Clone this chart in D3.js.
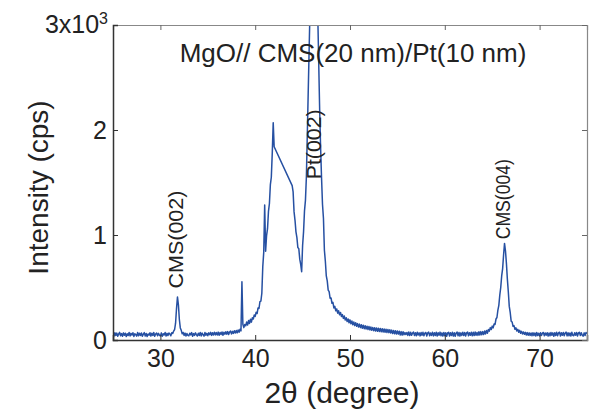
<!DOCTYPE html>
<html>
<head>
<meta charset="utf-8">
<script src="https://cdn.jsdelivr.net/npm/d3@7"></script>
<style>
  html, body { margin: 0; padding: 0; background: #fff; }
  svg { display: block; }
  text { font-family: "Liberation Sans", Arial, Helvetica, sans-serif; fill: #222; }
</style>
</head>
<body>
<svg id="chart" width="589" height="414"></svg>
<script>
// XRD θ-2θ scan: 25°–75°, step 0.1°. null = no reading at that step
// (the plotted line bridges those gaps with a straight segment).
const scanStart = 25;
const scanStep = 0.1;
const intensity = [
  62,38,70,44,66,35,58,73,40,61,          // 25
  36,68,45,64,33,59,42,71,39,63,          // 26
  47,69,34,60,52,37,72,41,65,43,          // 27
  67,35,56,70,38,62,34,58,46,69,          // 28
  37,64,43,71,36,57,66,40,63,45,          // 29
  39,68,36,60,48,72,38,63,42,67,          // 30
  58,40,70,62,85,100,160,300,410,335,     // 31
  195,115,92,60,72,44,66,38,62,45,        // 32
  40,65,48,70,36,61,44,68,52,38,          // 33
  64,42,71,39,66,50,37,72,45,63,          // 34
  41,68,50,73,44,69,47,74,49,70,          // 35
  48,75,45,71,52,77,46,73,55,78,          // 36
  56,80,52,76,85,58,82,63,88,66,          // 37
  90,68,96,74,102,86,555,150,118,148,     // 38
  135,172,142,185,158,198,170,212,200,238,// 39
  225,265,252,305,300,365,370,445,700,835,// 40
  1286,845,995,1060,1225,1300,1480,1550,1780,2070,   // 41
  1840,null,null,null,null,null,null,null,null,null, // 42
  null,null,null,null,null,null,null,null,null,1470, // 43
  1410,1220,1140,1030,975,880,870,770,720,650,       // 44
  900,1030,1230,1330,1555,null,null,null,null,null,  // 45
  null,null,4900,null,null,null,null,null,2190,1830, // 46
  1540,1290,1160,855,750,610,563,475,460,398,        // 47
  400,350,358,305,320,278,296,256,278,240,// 48
  262,224,242,206,228,190,212,176,200,164,// 49
  192,154,181,145,171,137,164,131,156,124,// 50
  151,118,146,112,141,108,135,104,131,99, // 51
  128,96,124,92,120,89,117,86,114,83,     // 52
  112,81,110,78,107,76,105,74,103,72,     // 53
  101,70,98,66,94,62,91,60,88,58,         // 54
  85,56,84,48,80,46,78,51,70,52,          // 55
  72,44,76,42,73,46,66,75,43,70,          // 56
  41,74,47,68,39,71,45,73,40,66,          // 57
  72,38,69,75,40,67,44,73,39,70,          // 58
  43,74,38,69,46,75,40,68,37,72,          // 59
  40,70,36,67,74,38,69,42,73,37,          // 60
  70,36,66,75,40,71,37,68,44,73,          // 61
  42,72,38,69,76,41,70,45,74,40,          // 62
  73,42,76,45,72,44,78,47,80,50,          // 63
  80,52,85,58,90,65,100,84,118,100,       // 64
  132,115,152,148,200,214,285,330,428,500,// 65
  610,680,810,920,850,730,580,460,320,262,// 66
  180,172,130,137,102,116,86,102,74,92,   // 67
  64,82,58,77,54,73,48,70,45,68,          // 68
  44,67,40,70,43,66,38,71,42,64,          // 69
  39,69,44,65,72,40,67,46,70,37,          // 70
  66,41,72,45,68,36,70,43,73,40,          // 71
  68,74,38,69,45,71,40,67,75,39,          // 72
  70,41,66,38,73,44,40,69,46,72,          // 73
  38,67,74,42,70,45,37,68,43,71,          // 74
  60                                      // 75
];

// Reflection labels: name, 2θ of the label baseline, intensity where the text starts
const peakNames  = ["CMS(002)", "Pt(002)", "CMS(004)"];
const peakTheta  = [32.35, 46.9, 66.85];
const peakLabelY = [490, 1530, 960];
const peakFont   = [21, 21, 21];
const peakLength = [98, 70, 80];

const xTicks = [30, 40, 50, 60, 70];
const yTicks = [0, 1000, 2000, 3000];
const titleText = "MgO// CMS(20 nm)/Pt(10 nm)";
const xLabel = "2θ (degree)";
const yLabel = "Intensity (cps)";

const svg = d3.select("#chart");
const margin = { left: 113, top: 25, right: 2, bottom: 74 };
const W = 589, H = 414;
const iw = W - margin.left - margin.right;
const ih = H - margin.top - margin.bottom;

const x = d3.scaleLinear().domain([25, 75]).range([0, iw]);
const y = d3.scaleLinear().domain([0, 3000]).range([ih, 0]);

const g = svg.append("g").attr("transform", `translate(${margin.left},${margin.top})`);

g.append("clipPath").attr("id", "plotClip")
  .append("rect").attr("x", 0).attr("y", 0).attr("width", iw).attr("height", ih);

const points = intensity
  .map((v, i) => ({ t: scanStart + i * scanStep, v }))
  .filter(d => d.v !== null);

const line = d3.line().x(d => x(d.t)).y(d => y(d.v));

g.append("path")
  .datum(points)
  .attr("clip-path", "url(#plotClip)")
  .attr("fill", "none")
  .attr("stroke", "#2650a2")
  .attr("stroke-width", 1.5)
  .attr("stroke-linejoin", "round")
  .attr("d", line);

// Axes (ticks pointing inward, mirrored on top/right)
const tickFont = 25;
const axB = g.append("g").attr("transform", `translate(0,${ih})`)
  .call(d3.axisBottom(x).tickValues(xTicks).tickSize(-5).tickPadding(10));
const axT = g.append("g")
  .call(d3.axisTop(x).tickValues(xTicks).tickSize(-5).tickFormat(""));
const axL = g.append("g")
  .call(d3.axisLeft(y).tickValues(yTicks).tickSize(-5).tickPadding(6)
    .tickFormat(d => d === 3000 ? "" : d / 1000));
const axR = g.append("g").attr("transform", `translate(${iw},0)`)
  .call(d3.axisRight(y).tickValues(yTicks).tickSize(-5).tickFormat(""));

[axB, axL].forEach(a => {
  a.selectAll(".domain").attr("stroke", "#333").attr("stroke-width", 1.5);
  a.selectAll(".tick line").attr("stroke", "#333");
  a.selectAll("text").attr("font-size", tickFont).attr("fill", "#222")
    .style("font-family", "'Liberation Sans', Arial, Helvetica, sans-serif");
});
[axT, axR].forEach(a => {
  a.selectAll(".domain").attr("stroke", "#888").attr("stroke-width", 1.2);
  a.selectAll(".tick line").attr("stroke", "#666");
});
axB.selectAll("text").attr("dy", "0.68em");

// Top tick label with exponent
const expLabel = g.append("text")
  .attr("x", -5).attr("y", y(3000)).attr("dy", "0.3em")
  .attr("text-anchor", "end").attr("font-size", tickFont);
expLabel.append("tspan").text("3x10");
expLabel.append("tspan").attr("dy", "-0.55em").attr("font-size", 16).text("3");

// Title
g.append("text")
  .attr("x", x(25) + (x(75) - x(25)) / 2 + 3).attr("y", 62 - margin.top)
  .attr("text-anchor", "middle").attr("font-size", 26)
  .text(titleText);

// Peak labels (vertical)
peakNames.forEach((name, i) => {
  const px = x(peakTheta[i]), py = y(peakLabelY[i]);
  g.append("text")
    .attr("transform", `translate(${px},${py}) rotate(-90)`)
    .attr("font-size", peakFont[i])
    .attr("textLength", peakLength[i])
    .attr("lengthAdjust", "spacingAndGlyphs")
    .text(name);
});

// Axis titles
svg.append("text")
  .attr("x", 342).attr("y", 403)
  .attr("text-anchor", "middle").attr("font-size", 30)
  .text(xLabel);
svg.append("text")
  .attr("transform", `translate(48,${margin.top + ih / 2 + 5}) rotate(-90)`)
  .attr("text-anchor", "middle").attr("font-size", 28)
  .text(yLabel);
</script>
</body>
</html>
